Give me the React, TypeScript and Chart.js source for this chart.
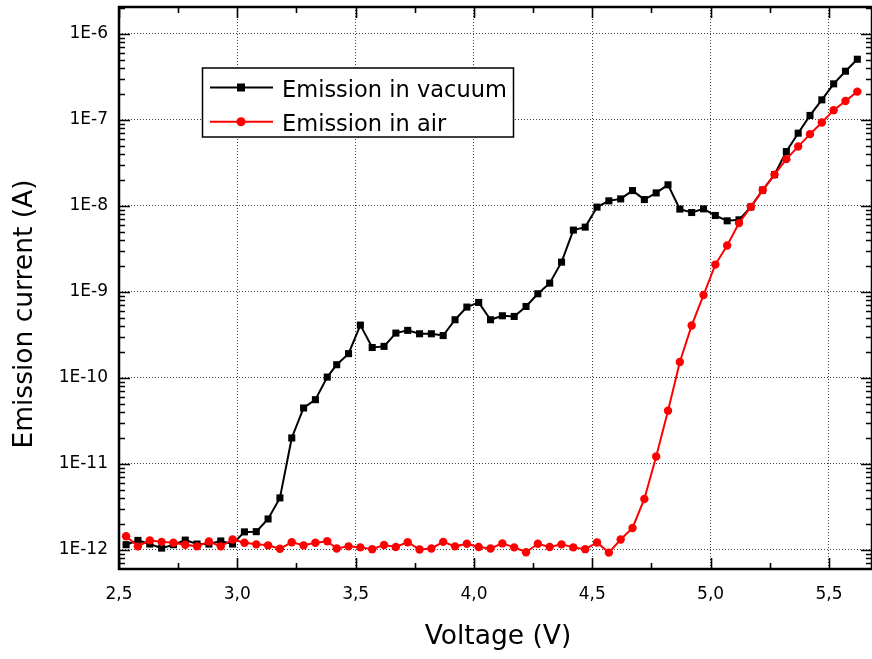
import React, { useEffect, useRef } from "react";
import { Chart, registerables } from "chart.js";

Chart.register(...registerables);

// ---- data ----
const voltage = [
  2.53, 2.58, 2.63, 2.68, 2.73, 2.78, 2.83, 2.88, 2.93, 2.98,
  3.03, 3.08, 3.13, 3.18, 3.23, 3.28, 3.33, 3.38, 3.42, 3.47,
  3.52, 3.57, 3.62, 3.67, 3.72, 3.77, 3.82, 3.87, 3.92, 3.97,
  4.02, 4.07, 4.12, 4.17, 4.22, 4.27, 4.32, 4.37, 4.42, 4.47,
  4.52, 4.57, 4.62, 4.67, 4.72, 4.77, 4.82, 4.87, 4.92, 4.97,
  5.02, 5.07, 5.12, 5.17, 5.22, 5.27, 5.32, 5.37, 5.42, 5.47,
  5.52, 5.57, 5.62,
];

const vacuumCurrent = [
  1.15e-12, 1.29e-12, 1.17e-12, 1.05e-12, 1.15e-12, 1.3e-12, 1.17e-12, 1.17e-12, 1.27e-12, 1.17e-12,
  1.62e-12, 1.63e-12, 2.29e-12, 4.02e-12, 2.0e-11, 4.46e-11, 5.57e-11, 1.02e-10, 1.42e-10, 1.91e-10,
  4.1e-10, 2.25e-10, 2.32e-10, 3.31e-10, 3.56e-10, 3.25e-10, 3.25e-10, 3.1e-10, 4.73e-10, 6.64e-10,
  7.52e-10, 4.73e-10, 5.26e-10, 5.17e-10, 6.75e-10, 9.48e-10, 1.26e-9, 2.21e-9, 5.21e-9, 5.64e-9,
  9.63e-9, 1.14e-8, 1.2e-8, 1.5e-8, 1.18e-8, 1.41e-8, 1.75e-8, 9.14e-9, 8.34e-9, 9.2e-9,
  7.7e-9, 6.68e-9, 6.86e-9, 9.7e-9, 1.52e-8, 2.3e-8, 4.26e-8, 6.97e-8, 1.12e-7, 1.7e-7,
  2.61e-7, 3.66e-7, 5.04e-7,
];

const airCurrent = [
  1.44e-12, 1.1e-12, 1.29e-12, 1.24e-12, 1.21e-12, 1.15e-12, 1.1e-12, 1.25e-12, 1.1e-12, 1.32e-12,
  1.21e-12, 1.16e-12, 1.13e-12, 1.03e-12, 1.23e-12, 1.13e-12, 1.21e-12, 1.26e-12, 1.04e-12, 1.1e-12,
  1.07e-12, 1.02e-12, 1.14e-12, 1.08e-12, 1.23e-12, 1.01e-12, 1.04e-12, 1.24e-12, 1.1e-12, 1.18e-12,
  1.08e-12, 1.04e-12, 1.19e-12, 1.07e-12, 9.4e-13, 1.18e-12, 1.08e-12, 1.16e-12, 1.07e-12, 1.02e-12,
  1.22e-12, 9.3e-13, 1.32e-12, 1.8e-12, 3.91e-12, 1.22e-11, 4.15e-11, 1.53e-10, 4.06e-10, 9.16e-10,
  2.07e-9, 3.45e-9, 6.28e-9, 9.7e-9, 1.52e-8, 2.3e-8, 3.48e-8, 4.87e-8, 6.79e-8, 9.26e-8,
  1.29e-7, 1.65e-7, 2.12e-7,
];

const seriesNames = ["Emission in vacuum", "Emission in air"];
const seriesColors = ["#000000", "#ff0000"];
const xTickValues = [2.5, 3.0, 3.5, 4.0, 4.5, 5.0, 5.5];
const yTickValues = [1e-12, 1e-11, 1e-10, 1e-9, 1e-8, 1e-7, 1e-6];
const xTitle = "Voltage (V)";
const yTitle = "Emission current (A)";

const X_MIN = 2.5;
const X_MAX = 5.682;
const Y_MIN = 6.07e-13;
const Y_MAX = 2.04e-6;

const FONT = "'DejaVu Sans', 'Liberation Sans', sans-serif";

const zeroPadding = (s: any) => {
  s.paddingTop = 0;
  s.paddingBottom = 0;
  s.paddingLeft = 0;
  s.paddingRight = 0;
};

const decorPlugin = {
  id: "decor",
  afterDraw(chart: any) {
    const { ctx, chartArea, scales } = chart;
    const { left, right, top, bottom } = chartArea;
    const xs = scales.x;
    const ys = scales.y;
    ctx.save();
    ctx.strokeStyle = "#000";
    ctx.lineCap = "butt";
    ctx.setLineDash([]);

    // inward tick marks
    ctx.lineWidth = 1.6;
    ctx.beginPath();
    for (let k = 0; k <= 14; k++) {
      const v = X_MIN + k * 0.25;
      if (v > X_MAX) break;
      const px = Math.round(xs.getPixelForValue(v)) + 0.5;
      const len = k % 2 === 0 ? 11 : 6;
      ctx.moveTo(px, bottom);
      ctx.lineTo(px, bottom - len);
      ctx.moveTo(px, top);
      ctx.lineTo(px, top + len);
    }
    for (let d = -13; d <= -6; d++) {
      for (let m = 1; m <= 9; m++) {
        const v = m * Math.pow(10, d);
        if (v < Y_MIN || v > Y_MAX) continue;
        const py = Math.round(ys.getPixelForValue(v)) + 0.5;
        const len = m === 1 ? 11 : 6;
        ctx.moveTo(left, py);
        ctx.lineTo(left + len, py);
        ctx.moveTo(right, py);
        ctx.lineTo(right - len, py);
      }
    }
    ctx.stroke();

    // frame
    ctx.lineWidth = 2.5;
    ctx.strokeRect(left, top, right - left, bottom - top);

    // axis titles
    ctx.fillStyle = "#000";
    ctx.font = `26.5px ${FONT}`;
    ctx.textAlign = "center";
    ctx.textBaseline = "alphabetic";
    ctx.fillText(xTitle, 498, 643.5);
    ctx.save();
    ctx.translate(31.5, 314);
    ctx.rotate(-Math.PI / 2);
    ctx.fillText(yTitle, 0, 0);
    ctx.restore();

    // legend
    const bx = 202.5, by = 68, bw = 311, bh = 69;
    ctx.fillStyle = "#fff";
    ctx.fillRect(bx, by, bw, bh);
    ctx.lineWidth = 1.5;
    ctx.strokeStyle = "#000";
    ctx.strokeRect(bx, by, bw, bh);
    const rows = [87.5, 121.8];
    ctx.font = `22.5px ${FONT}`;
    ctx.textAlign = "left";
    ctx.textBaseline = "alphabetic";
    seriesNames.forEach((name, i) => {
      const ry = rows[i];
      const col = seriesColors[i];
      ctx.strokeStyle = col;
      ctx.lineWidth = 2;
      ctx.beginPath();
      ctx.moveTo(210, ry);
      ctx.lineTo(273, ry);
      ctx.stroke();
      ctx.fillStyle = col;
      if (i === 0) {
        ctx.fillRect(241 - 4, ry - 4, 8, 8);
      } else {
        ctx.beginPath();
        ctx.arc(241, ry, 4.5, 0, Math.PI * 2);
        ctx.fill();
      }
      ctx.fillStyle = "#000";
      ctx.fillText(name, 282, ry + 9.3);
    });
    ctx.restore();
  },
};

export default function App() {
  const canvasRef = useRef<HTMLCanvasElement | null>(null);

  useEffect(() => {
    const canvas = canvasRef.current;
    if (!canvas) return;
    const vacuumData = voltage.map((v, i) => ({ x: v, y: vacuumCurrent[i] }));
    const airData = voltage.map((v, i) => ({ x: v, y: airCurrent[i] }));

    const chart = new Chart(canvas, {
      type: "line",
      data: {
        datasets: [
          {
            label: seriesNames[0],
            data: vacuumData,
            borderColor: seriesColors[0],
            backgroundColor: seriesColors[0],
            borderWidth: 2,
            pointStyle: "rect",
            pointRadius: 5,
            pointBorderWidth: 0,
            tension: 0,
            order: 1,
          },
          {
            label: seriesNames[1],
            data: airData,
            borderColor: seriesColors[1],
            backgroundColor: seriesColors[1],
            borderWidth: 2,
            pointStyle: "circle",
            pointRadius: 4.2,
            pointBorderWidth: 0,
            tension: 0,
            order: 0,
          },
        ],
      },
      options: {
        responsive: false,
        animation: false,
        devicePixelRatio: 1,
        layout: { autoPadding: false, padding: { top: 7, left: 0, right: -3, bottom: 0 } },
        plugins: {
          legend: { display: false },
          tooltip: { enabled: false },
        },
        scales: {
          x: {
            type: "linear",
            min: X_MIN,
            max: X_MAX,
            afterBuildTicks: (s: any) => {
              s.ticks = xTickValues.map((value) => ({ value }));
            },
            afterFit: (s: any) => {
              s.height = 90;
              zeroPadding(s);
            },
            grid: {
              color: "rgba(0,0,0,0.75)",
              lineWidth: 1,
              drawTicks: false,
            },
            border: { display: false, dash: [1, 2] },
            ticks: {
              color: "#000",
              padding: 15,
              maxRotation: 0,
              autoSkip: false,
              font: { family: FONT, size: 17 },
              callback: (v: any) => Number(v).toFixed(1).replace(".", ","),
            },
          },
          y: {
            type: "logarithmic",
            min: Y_MIN,
            max: Y_MAX,
            afterBuildTicks: (s: any) => {
              s.ticks = yTickValues.map((value) => ({ value }));
            },
            afterFit: (s: any) => {
              s.width = 119;
              zeroPadding(s);
            },
            grid: {
              color: "rgba(0,0,0,0.75)",
              lineWidth: 1,
              drawTicks: false,
            },
            border: { display: false, dash: [1, 2] },
            ticks: {
              color: "#000",
              padding: 11,
              autoSkip: false,
              font: { family: FONT, size: 17 },
              callback: (v: any) => "1E" + Math.round(Math.log10(Number(v))),
            },
          },
        },
      },
      plugins: [decorPlugin],
    });

    return () => {
      chart.destroy();
    };
  }, []);

  return (
    <div style={{ position: "fixed", left: 0, top: 0, width: 872, height: 659, background: "#fff" }}>
      <canvas ref={canvasRef} width={872} height={659} style={{ display: "block" }} />
    </div>
  );
}
